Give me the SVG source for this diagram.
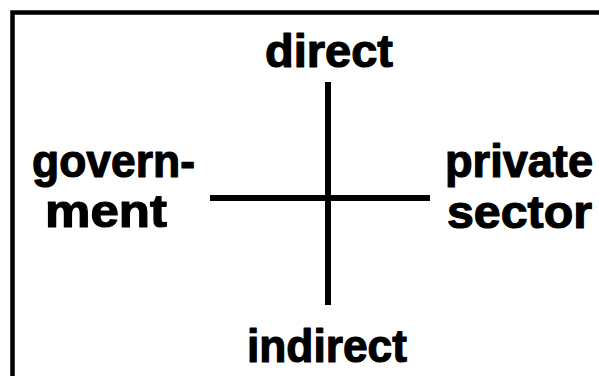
<svg xmlns="http://www.w3.org/2000/svg" width="599" height="376" viewBox="0 0 599 376">
<style>
.t{font-family:"Liberation Sans",Arial,sans-serif;font-weight:bold;font-size:46px;fill:#000;stroke:#000;stroke-width:1.2;stroke-linejoin:round}
.ln{stroke:#000;stroke-width:6;fill:none}
</style>
<rect width="599" height="376" fill="#fff"/>
<path d="M12.5,376 V12.5 H599" stroke="#000" stroke-width="4.5" fill="none"/>
<g id="connectors">
<line class="ln" x1="328" y1="82" x2="328" y2="305"/>
<line class="ln" x1="210" y1="198" x2="430" y2="198"/>
</g>
<g id="direct"><text class="t" x="265" y="67" textLength="128" lengthAdjust="spacingAndGlyphs">direct</text></g>
<g id="indirect"><text class="t" x="247" y="362" textLength="160" lengthAdjust="spacingAndGlyphs">indirect</text></g>
<g id="government"><text class="t" x="32" y="177" textLength="163" lengthAdjust="spacingAndGlyphs">govern-</text><text class="t" x="45" y="227" textLength="122" lengthAdjust="spacingAndGlyphs">ment</text></g>
<g id="private-sector"><text class="t" x="445" y="177" textLength="148" lengthAdjust="spacingAndGlyphs">private</text><text class="t" x="447" y="228" textLength="145" lengthAdjust="spacingAndGlyphs">sector</text></g>
</svg>
